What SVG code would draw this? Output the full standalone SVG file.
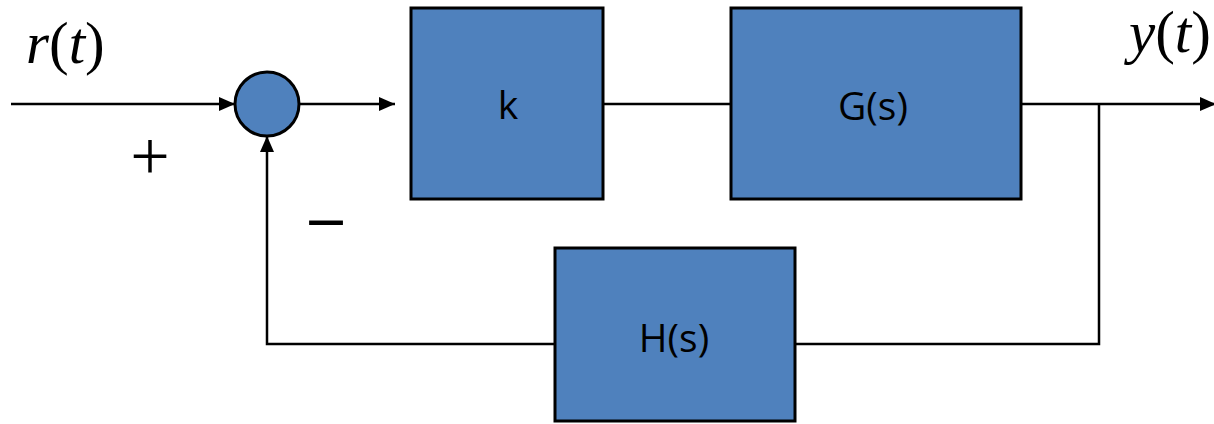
<svg xmlns="http://www.w3.org/2000/svg" width="1214" height="424" viewBox="0 0 1214 424">
<style>
.blk{fill:#4f81bd;stroke:#000;stroke-width:3}
.ln{fill:none;stroke:#000;stroke-width:2.5}
.lbl{font-family:"Open Sans","Liberation Sans",sans-serif;font-size:39px;fill:#000;text-anchor:middle}
.math{font-family:"Liberation Serif",serif;font-size:59px;fill:#000}
.sign{font-family:"Liberation Serif",serif;font-size:70px;fill:#000;text-anchor:middle}
</style>
<defs>
<marker id="arrL" markerWidth="16" markerHeight="14" refX="16" refY="7" orient="auto" markerUnits="userSpaceOnUse" viewBox="0 0 16 14">
<path d="M0,0 L16,7 L0,14 z" fill="#000"/>
</marker>
</defs>
<g id="connectors">
<line class="ln" x1="11" y1="104" x2="235" y2="104" marker-end="url(#arrL)"/>
<line class="ln" x1="299" y1="104" x2="395" y2="104" marker-end="url(#arrL)"/>
<line class="ln" x1="603" y1="104" x2="731" y2="104"/>
<line class="ln" x1="1021" y1="104" x2="1216" y2="104" marker-end="url(#arrL)"/>
<polyline class="ln" points="1099,104 1099,344 795,344"/>
<polyline class="ln" points="555,344 267,344 267,136" marker-end="url(#arrL)"/>
</g>
<g id="sum">
<circle class="blk" cx="267" cy="104" r="32" stroke-width="2.5"/>
</g>
<g id="k">
<rect class="blk" x="411" y="8" width="192" height="191"/>
<text class="lbl" x="508" y="119">k</text>
</g>
<g id="G">
<rect class="blk" x="731" y="8" width="290" height="191"/>
<text class="lbl" x="873" y="120">G(s)</text>
</g>
<g id="H">
<rect class="blk" x="555" y="248" width="240" height="173"/>
<text class="lbl" x="674" y="352">H(s)</text>
</g>
<g id="labels">
<text class="math" x="26" y="63"><tspan font-style="italic">r</tspan>(<tspan font-style="italic">t</tspan>)</text>
<text class="math" x="1129" y="52"><tspan font-style="italic">y</tspan>(<tspan font-style="italic">t</tspan>)</text>
<text class="sign" x="150" y="180">+</text>
<text class="sign" x="326" y="246" stroke="#000" stroke-width="1.2">−</text>
</g>
</svg>
